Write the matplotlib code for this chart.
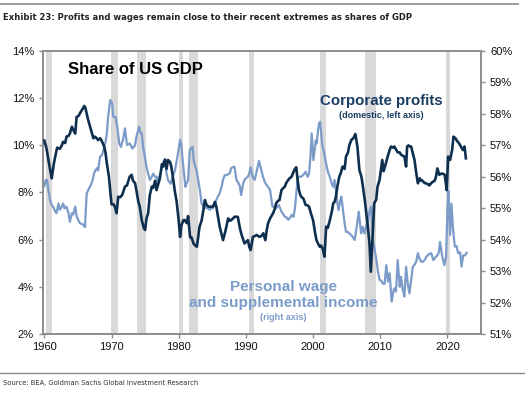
import matplotlib
matplotlib.use("Agg")
import matplotlib.pyplot as plt
from matplotlib.lines import Line2D

plt.rcParams['font.family'] = ['Liberation Sans', 'DejaVu Sans']

title = "Exhibit 23: Profits and wages remain close to their recent extremes as shares of GDP"
source = "Source: BEA, Goldman Sachs Global Investment Research"

profit_years = [1960.0,1960.3,1960.6,1960.9,1961.1,1961.4,1961.6,1961.9,1962.3,1962.6,1962.8,1963.1,1963.3,1963.6,1963.8,
1964.1,1964.4,1964.6,1964.8,1965.1,1965.3,1965.6,1965.95,1966.1,1966.3,1966.5,1966.8,1967.0,1967.3,1967.5,1967.8,
1968.0,1968.3,1968.5,1968.9,1969.1,1969.3,1969.6,1969.8,1970.0,1970.3,1970.5,1970.75,1971.0,1971.3,1971.6,1972.0,
1972.3,1972.7,1973.0,1973.2,1973.5,1973.7,1974.0,1974.2,1974.5,1974.8,1975.0,1975.2,1975.45,1975.7,1976.0,1976.2,
1976.5,1976.7,1977.0,1977.2,1977.5,1977.7,1977.95,1978.2,1978.4,1978.7,1978.9,1979.2,1979.4,1979.7,1980.0,1980.2,
1980.4,1980.7,1980.9,1981.2,1981.4,1981.7,1981.9,1982.2,1982.4,1982.7,1982.9,1983.1,1983.4,1983.6,1983.9,1984.1,
1984.4,1984.8,1985.1,1985.4,1985.6,1985.9,1986.1,1986.4,1986.6,1986.9,1987.1,1987.35,1987.6,1987.8,1988.1,1988.3,
1988.6,1988.8,1989.1,1989.3,1989.6,1989.8,1990.0,1990.3,1990.5,1990.7,1991.05,1991.3,1991.6,1992.0,1992.3,1992.6,
1992.9,1993.1,1993.3,1993.6,1994.05,1994.3,1994.5,1994.8,1995.0,1995.3,1995.6,1995.8,1996.0,1996.3,1996.5,1996.8,
1997.1,1997.3,1997.5,1997.7,1997.9,1998.1,1998.3,1998.55,1998.9,1999.2,1999.4,1999.7,2000.0,2000.3,2000.5,2000.8,
2001.0,2001.2,2001.45,2001.7,2001.95,2002.2,2002.5,2002.8,2003.0,2003.2,2003.4,2003.65,2003.9,2004.1,2004.4,2004.7,
2004.9,2005.2,2005.4,2005.7,2006.0,2006.3,2006.6,2006.9,2007.2,2007.4,2007.7,2008.1,2008.4,2008.6,2008.9,2009.1,
2009.4,2009.6,2009.9,2010.1,2010.3,2010.5,2010.7,2010.9,2011.1,2011.4,2011.6,2011.9,2012.1,2012.4,2012.6,2012.9,
2013.1,2013.4,2013.6,2013.85,2014.0,2014.2,2014.4,2014.6,2014.9,2015.1,2015.3,2015.6,2015.9,2016.1,2016.3,2016.6,
2016.8,2017.1,2017.3,2017.6,2017.8,2018.1,2018.3,2018.5,2018.8,2019.1,2019.3,2019.6,2019.9,2020.1,2020.4,2020.7,
2020.9,2021.2,2021.4,2021.7,2022.0,2022.3,2022.55,2022.75]
profit_values = [10.2,9.9,9.4,8.9,8.6,9.2,9.5,9.9,9.85,10.0,10.15,10.1,10.37,10.4,10.5,
10.79,10.6,10.5,11.2,11.25,11.36,11.5,11.67,11.6,11.36,11.1,10.79,10.6,10.3,10.37,10.3,
10.22,10.3,10.22,9.95,9.7,9.24,8.7,8.1,7.5,7.5,7.4,7.12,7.82,7.8,7.9,8.25,
8.3,8.67,8.75,8.5,8.4,8.1,7.6,7.4,6.83,6.5,6.41,6.9,7.12,7.89,8.25,8.2,
8.5,8.1,8.4,8.6,9.2,9.1,9.4,9.0,9.38,9.3,9.1,8.53,8.1,7.6,6.8,6.12,
6.6,6.83,6.83,6.7,7.0,6.1,6.1,5.84,5.77,5.70,6.1,6.55,6.8,7.12,7.68,7.5,
7.4,7.4,7.4,7.6,7.4,6.9,6.55,6.2,5.98,6.3,6.55,6.9,6.8,6.83,6.9,6.97,
6.97,6.97,6.5,6.27,6.0,5.84,5.9,5.98,5.7,5.56,6.12,6.15,6.2,6.12,6.15,6.27,
5.98,6.4,6.69,6.9,7.12,7.3,7.54,7.65,7.68,8.1,8.2,8.25,8.4,8.53,8.6,8.67,
8.88,9.0,9.07,8.53,8.1,7.9,7.8,7.75,7.47,7.45,7.4,7.1,6.83,6.3,5.98,5.8,
5.70,5.75,5.6,5.28,6.55,6.5,6.83,7.2,7.54,7.6,7.82,8.3,8.67,8.8,9.1,9.0,
9.52,9.7,10.0,10.23,10.3,10.48,9.95,8.95,8.67,8.3,7.68,6.69,5.84,4.64,6.3,7.54,
7.7,8.25,8.53,8.95,9.38,8.9,9.1,9.3,9.52,9.8,9.95,9.9,9.95,9.8,9.7,9.7,
9.6,9.55,9.52,9.1,9.95,10.0,9.95,9.95,9.6,9.38,8.95,8.39,8.6,8.5,8.5,8.4,
8.39,8.35,8.3,8.4,8.45,8.5,8.67,9.02,8.75,8.8,8.8,8.75,8.1,9.52,9.38,9.8,
10.37,10.3,10.2,10.1,9.95,9.8,9.95,9.45]

wage_years = [1960.0,1960.2,1960.4,1960.6,1960.85,1961.1,1961.3,1961.6,1961.8,1962.1,1962.3,1962.6,1962.8,1963.0,1963.3,
1963.6,1963.8,1964.1,1964.3,1964.6,1964.8,1965.1,1965.3,1965.6,1965.8,1966.05,1966.3,1966.6,1966.8,1967.0,1967.2,
1967.4,1967.6,1967.8,1968.0,1968.3,1968.6,1968.8,1969.1,1969.3,1969.5,1969.8,1970.1,1970.25,1970.6,1970.85,1971.15,
1971.4,1971.75,1972.0,1972.3,1972.7,1973.1,1973.5,1973.7,1974.0,1974.1,1974.3,1974.5,1974.7,1975.0,1975.2,1975.45,
1975.7,1976.0,1976.2,1976.5,1976.7,1976.9,1977.1,1977.3,1977.5,1977.7,1977.95,1978.2,1978.4,1978.8,1979.1,1979.45,
1979.7,1979.9,1980.2,1980.4,1980.65,1981.0,1981.2,1981.4,1981.65,1982.05,1982.25,1982.5,1982.65,1982.9,1983.15,1983.4,
1983.65,1983.9,1984.1,1984.4,1984.6,1984.9,1985.1,1985.3,1985.6,1985.9,1986.1,1986.4,1986.6,1986.85,1987.1,1987.35,
1987.6,1987.8,1988.0,1988.3,1988.6,1988.9,1989.1,1989.3,1989.6,1989.8,1990.0,1990.3,1990.5,1990.7,1991.0,1991.3,
1991.65,1991.95,1992.3,1992.55,1992.8,1993.05,1993.3,1993.6,1993.95,1994.2,1994.5,1994.9,1995.1,1995.3,1995.6,1995.8,
1996.1,1996.3,1996.6,1996.8,1997.1,1997.3,1997.5,1997.75,1998.0,1998.2,1998.5,1998.7,1998.9,1999.2,1999.4,1999.6,
1999.8,2000.05,2000.25,2000.4,2000.55,2000.75,2000.9,2001.05,2001.35,2001.7,2002.05,2002.3,2002.5,2002.75,2003.0,2003.2,
2003.4,2003.6,2003.8,2004.0,2004.2,2004.4,2004.65,2004.9,2005.15,2005.4,2005.65,2005.9,2006.2,2006.5,2006.8,2007.15,
2007.4,2007.65,2007.9,2008.15,2008.4,2008.65,2008.9,2009.15,2009.4,2009.65,2009.9,2010.15,2010.4,2010.65,2010.9,2011.15,
2011.4,2011.7,2012.0,2012.1,2012.35,2012.6,2012.9,2013.1,2013.35,2013.6,2013.85,2014.1,2014.35,2014.6,2014.85,2015.1,
2015.35,2015.6,2015.85,2016.1,2016.35,2016.6,2016.85,2017.1,2017.35,2017.6,2017.9,2018.1,2018.3,2018.5,2018.7,2018.9,
2019.2,2019.55,2019.8,2020.0,2020.15,2020.4,2020.6,2020.85,2021.1,2021.35,2021.6,2021.9,2022.1,2022.35,2022.6,2022.85]
wage_values = [55.7,55.9,55.9,55.58,55.26,55.1,55.05,54.9,54.84,55.15,54.95,55.05,55.15,55.0,55.05,
54.84,54.57,54.84,54.8,55.05,54.75,54.6,54.52,54.5,54.47,54.4,55.47,55.6,55.68,55.78,55.9,
56.11,56.2,56.27,56.2,56.64,56.7,56.85,57.1,57.38,57.91,58.44,58.33,57.91,57.9,57.59,57.06,
56.95,57.22,57.54,57.01,57.06,56.9,57.0,57.27,57.5,57.59,57.4,57.38,56.96,56.6,56.32,56.1,
55.9,56.0,56.1,56.0,56.0,55.78,56.0,56.1,56.3,56.48,56.5,56.1,55.9,55.78,56.0,56.21,
56.5,56.75,57.17,57.0,56.4,55.68,55.8,55.9,56.85,56.96,56.5,56.3,56.21,55.9,55.58,55.16,
55.05,55.1,55.0,55.0,54.95,55.0,55.0,55.1,55.26,55.4,55.47,55.7,55.9,56.05,56.05,56.08,
56.11,56.27,56.3,56.32,55.9,55.8,55.7,55.42,55.79,55.9,55.95,56.0,56.1,56.3,56.0,55.9,
56.21,56.51,56.21,56.0,55.84,55.75,55.68,55.58,55.05,55.05,55.0,55.1,55.0,54.89,54.8,54.73,
54.7,54.63,54.7,54.79,54.73,55.0,55.47,56.0,56.0,56.0,56.05,56.1,56.16,56.0,56.1,56.6,
57.38,56.53,56.9,57.16,57.06,57.5,57.7,57.75,57.06,56.7,56.3,56.1,56.0,55.8,55.68,55.9,
55.58,55.2,54.94,55.2,55.37,55.05,54.6,54.25,54.25,54.2,54.15,54.09,53.99,54.41,54.89,54.2,
54.41,54.2,54.41,54.6,54.89,55.05,54.0,53.7,53.4,53.0,52.72,52.7,52.6,52.6,53.19,52.67,
52.93,52.03,52.4,52.45,52.35,53.35,52.5,52.82,52.4,52.19,53.14,52.6,52.29,52.72,53.14,53.2,
53.3,53.57,53.4,53.3,53.3,53.35,53.45,53.51,53.55,53.57,53.35,53.4,53.46,53.5,53.57,53.93,
53.5,53.19,53.46,54.94,55.55,54.15,55.15,54.31,53.78,53.8,53.57,53.6,53.14,53.5,53.5,53.58]

recession_start = [1960.25, 1969.85, 1973.8, 1980.0, 1981.5, 1990.5, 2001.0, 2007.8, 2019.75]
recession_end = [1961.2, 1970.9, 1975.2, 1980.6, 1982.9, 1991.2, 2001.9, 2009.4, 2020.35]

left_ticks = [2, 4, 6, 8, 10, 12, 14]
right_ticks = [51, 52, 53, 54, 55, 56, 57, 58, 59, 60]
year_ticks = [1960, 1970, 1980, 1990, 2000, 2010, 2020]

dark = '#0f2f4f'
light = '#7b9bc9'
spine_c = '#8c8c8c'

fig = plt.figure(figsize=(5.28, 3.94), dpi=100)
ax = fig.add_axes([43/528, 1-334/394, (481-43)/528, (334-51)/394])
ax2 = ax.twinx()

# bottom layer: ax2 (recessions + wage line), top layer: ax (profits)
ax2.set_zorder(1)
ax.set_zorder(2)
ax.patch.set_visible(False)
ax2.patch.set_visible(True)
ax2.patch.set_facecolor('white')

for s, e in zip(recession_start, recession_end):
    ax2.axvspan(s, e, color='#d9d9d9', lw=0, zorder=0)

ax2.plot(wage_years, wage_values, color=light, lw=1.6, zorder=2)
ax.plot(profit_years, profit_values, color=dark, lw=1.9, zorder=3)

ax.set_xlim(1959.8, 2025.0)
ax.set_ylim(2, 14)
ax2.set_ylim(51, 60)
ax.set_yticks(left_ticks)
ax.set_yticklabels([f"{t}%" for t in left_ticks])
ax2.set_yticks(right_ticks)
ax2.set_yticklabels([f"{t}%" for t in right_ticks])
ax.set_xticks(year_ticks)
ax.set_xticklabels([str(y) for y in year_ticks])

for a in (ax, ax2):
    for sp in a.spines.values():
        sp.set_color(spine_c)
        sp.set_linewidth(1.2)
    a.tick_params(axis='both', colors=spine_c, labelcolor='#111111', labelsize=8, length=3, width=1)
ax.tick_params(axis='x', pad=3)

ax.text(0.058, 0.933, "Share of US GDP", transform=ax.transAxes, fontsize=12, fontweight='bold', color='black', va='center')
ax.text(0.773, 0.822, "Corporate profits", transform=ax.transAxes, fontsize=10.8, fontweight='bold', color='#1b3d63', ha='center', va='center')
ax.text(0.773, 0.772, "(domestic, left axis)", transform=ax.transAxes, fontsize=6.5, fontweight='bold', color='#1b3d63', ha='center', va='center')
ax.text(0.548, 0.165, "Personal wage", transform=ax.transAxes, fontsize=11, fontweight='bold', color=light, ha='center', va='center')
ax.text(0.548, 0.108, "and supplemental income", transform=ax.transAxes, fontsize=11, fontweight='bold', color=light, ha='center', va='center')
ax.text(0.548, 0.058, "(right axis)", transform=ax.transAxes, fontsize=6.5, fontweight='bold', color=light, ha='center', va='center')

fig.add_artist(Line2D([0, 518/528], [1-4/394, 1-4/394], color='#8c8c8c', lw=1.2))
fig.text(3/528, 1-17/394, title, fontsize=6.72, fontweight='bold', color='#222222', va='center',
         family=['DejaVu Sans'], fontstretch='condensed')
fig.add_artist(Line2D([0, 524/528], [1-373/394, 1-373/394], color='#8c8c8c', lw=1.0))
fig.text(3/528, 1-383/394, source, fontsize=5.4, color='#333333', va='center',
         family=['DejaVu Sans'], fontstretch='condensed')

fig.savefig('out.png', dpi=100)
